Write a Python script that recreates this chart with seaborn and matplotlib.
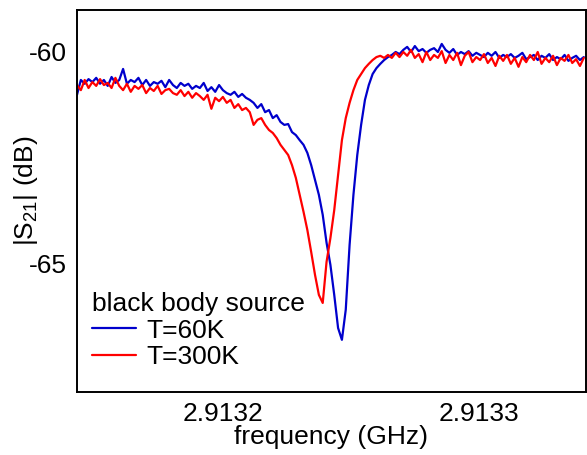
import numpy as np
import pandas as pd
import matplotlib
matplotlib.use("Agg")
import matplotlib.pyplot as plt
from matplotlib.ticker import FormatStrFormatter
import seaborn as sns

# frequency sweep, offset from 2.9132 GHz in kHz
BASE_GHZ = 2.9132
freq_khz = [
    -57.0, -55.5, -54.0, -52.5, -51.0, -49.5, -48.0, -46.5, -45.0, -43.5,
    -42.0, -40.5, -39.0, -37.5, -36.0, -34.5, -33.0, -31.5, -30.0, -28.5,
    -27.0, -25.5, -24.0, -22.5, -21.0, -19.5, -18.0, -16.5, -15.0, -13.5,
    -12.0, -10.5, -9.0, -7.5, -6.0, -4.5, -3.0, -1.5, 0.0, 1.5,
    3.0, 4.5, 6.0, 7.5, 9.0, 10.5, 12.0, 13.5, 15.0, 16.5,
    18.0, 19.5, 21.0, 22.5, 24.0, 25.5, 27.0, 28.5, 30.0, 31.5,
    33.0, 34.5, 36.0, 37.5, 39.0, 40.5, 42.0, 43.5, 45.0, 46.5,
    48.0, 49.5, 51.0, 52.5, 54.0, 55.5, 57.0, 58.5, 60.0, 61.5,
    63.0, 64.5, 66.0, 67.5, 69.0, 70.5, 72.0, 73.5, 75.0, 76.5,
    78.0, 79.5, 81.0, 82.5, 84.0, 85.5, 87.0, 88.5, 90.0, 91.5,
    93.0, 94.5, 96.0, 97.5, 99.0, 100.5, 102.0, 103.5, 105.0, 106.5,
    108.0, 109.5, 111.0, 112.5, 114.0, 115.5, 117.0, 118.5, 120.0, 121.5,
    123.0, 124.5, 126.0, 127.5, 129.0, 130.5, 132.0, 133.5, 135.0, 136.5,
    138.0, 139.5, 141.0,
]

# |S21| in dB, black body source at 60 K
s21_60k = [
    -61.01, -60.66, -60.75, -60.64, -60.71, -60.61, -60.75, -60.66, -60.80, -60.59,
    -60.73, -60.66, -60.40, -60.75, -60.66, -60.71, -60.61, -60.78, -60.66, -60.80,
    -60.71, -60.75, -60.68, -60.83, -60.66, -60.78, -60.85, -60.73, -60.80, -60.75,
    -60.87, -60.80, -60.85, -60.73, -60.92, -60.83, -60.94, -60.78, -60.90, -60.97,
    -61.01, -60.94, -61.06, -60.99, -61.08, -61.13, -61.20, -61.32, -61.23, -61.42,
    -61.37, -61.56, -61.49, -61.65, -61.72, -61.70, -61.89, -61.96, -62.08, -62.19,
    -62.38, -62.67, -63.02, -63.37, -63.84, -64.50, -65.02, -65.73, -66.51, -66.79,
    -66.08, -64.55, -63.37, -62.43, -61.72, -61.13, -60.78, -60.52, -60.38, -60.28,
    -60.19, -60.12, -60.07, -60.00, -60.05, -59.95, -59.88, -60.00, -59.86, -59.98,
    -59.93, -60.02, -59.95, -59.91, -60.00, -59.81, -59.95, -60.02, -59.93, -60.07,
    -60.00, -60.05, -59.98, -60.09, -60.02, -60.07, -60.12, -60.02, -60.09, -60.00,
    -60.14, -60.07, -60.12, -60.05, -60.14, -60.09, -60.02, -60.17, -60.12, -60.07,
    -60.19, -60.09, -60.14, -60.05, -60.19, -60.12, -60.17, -60.07, -60.21, -60.14,
    -60.09, -60.19, -60.12,
]

# |S21| in dB, black body source at 300 K
s21_300k = [
    -60.78, -60.90, -60.66, -60.85, -60.71, -60.80, -60.64, -60.78, -60.73, -60.85,
    -60.61, -60.80, -60.90, -60.75, -60.94, -60.80, -60.87, -60.78, -60.97, -60.85,
    -60.92, -60.80, -60.99, -60.90, -60.87, -60.97, -61.01, -60.90, -61.04, -60.94,
    -61.08, -60.97, -61.04, -61.13, -61.01, -61.34, -61.08, -61.16, -61.06, -61.20,
    -61.13, -61.32, -61.23, -61.37, -61.32, -61.42, -61.72, -61.60, -61.56, -61.72,
    -61.84, -61.91, -62.03, -62.19, -62.31, -62.43, -62.67, -62.97, -63.37, -63.77,
    -64.20, -64.72, -65.26, -65.73, -65.92, -64.95, -64.39, -63.73, -62.90, -62.08,
    -61.56, -61.20, -60.90, -60.66, -60.52, -60.38, -60.28, -60.19, -60.12, -60.09,
    -60.14, -60.07, -60.14, -60.02, -60.12, -60.00, -60.09, -59.95, -60.14, -60.05,
    -60.24, -60.00, -60.19, -60.07, -60.14, -59.98, -60.26, -60.07, -60.19, -60.02,
    -60.31, -60.09, -60.00, -60.24, -60.12, -60.19, -60.05, -60.26, -60.14, -60.33,
    -60.09, -60.21, -60.07, -60.28, -60.14, -60.35, -60.12, -60.24, -60.07, -60.19,
    -60.00, -60.28, -60.14, -60.24, -60.09, -60.31, -60.14, -60.21, -60.07, -60.26,
    -60.17, -60.33, -60.14,
]

labels = ["T=60K", "T=300K"]
colors = {"T=60K": "#0000cc", "T=300K": "#ff0000"}


def main():
    freq_ghz = BASE_GHZ + np.array(freq_khz) * 1e-6
    df = pd.concat([
        pd.DataFrame({"freq": freq_ghz, "s21": s21_60k, "source": labels[0]}),
        pd.DataFrame({"freq": freq_ghz, "s21": s21_300k, "source": labels[1]}),
    ])

    sns.set_style("white")
    plt.rcParams["font.family"] = ["Liberation Sans", "DejaVu Sans"]
    plt.rcParams["mathtext.fontset"] = "custom"
    plt.rcParams["mathtext.rm"] = "Liberation Sans"
    plt.rcParams["mathtext.default"] = "regular"
    plt.rcParams["axes.unicode_minus"] = False
    plt.rcParams["text.color"] = "black"
    plt.rcParams["axes.labelcolor"] = "black"

    fig = plt.figure(figsize=(5.87, 4.55), dpi=100)
    ax = fig.add_axes([0.1312, 0.1385, 0.8668, 0.8395])

    sns.lineplot(data=df, x="freq", y="s21", hue="source", hue_order=labels,
                 palette=colors, estimator=None, linewidth=1.6, ax=ax)

    ax.set_xlim(BASE_GHZ - 57.0e-6, BASE_GHZ + 141.8e-6)
    ax.set_ylim(-68.02, -59.01)
    ax.set_xticks([2.9132, 2.9133])
    ax.set_yticks([-60, -65])
    ax.xaxis.set_major_formatter(FormatStrFormatter("%.4f"))
    ax.yaxis.set_major_formatter(FormatStrFormatter("%d"))
    ax.tick_params(direction="in", length=11.5, width=1.3, pad=7,
                   labelsize=19, colors="black")

    for sp in ax.spines.values():
        sp.set_color("black")
        sp.set_linewidth(1.4)

    ax.set_xlabel("frequency (GHz)", fontsize=19)
    ax.set_ylabel("|S$_{21}$| (dB)", fontsize=19)
    ax.xaxis.set_label_coords(0.5, -0.086)
    ax.yaxis.set_label_coords(-0.073, 0.526)

    handles, lbls = ax.get_legend_handles_labels()
    leg = ax.legend(handles, lbls, title="black body source", loc="upper left",
                    bbox_to_anchor=(0.03, 0.262), frameon=False, fontsize=19,
                    title_fontsize=19, borderpad=0, labelspacing=0.1,
                    handlelength=1.65, handletextpad=0.4, borderaxespad=0)
    leg._legend_box.align = "left"

    fig.savefig("out.png", dpi=100)


if __name__ == "__main__":
    main()
